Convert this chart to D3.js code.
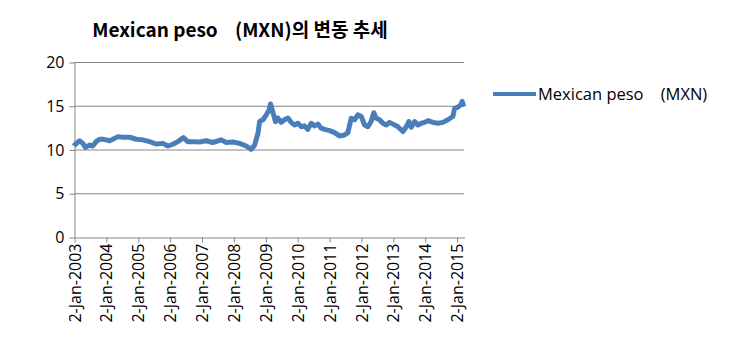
<!DOCTYPE html>
<html>
<head>
<meta charset="utf-8">
<script src="https://cdn.jsdelivr.net/npm/d3@7"></script>
<style>
  body { margin: 0; background: #fff; }
  text { white-space: pre; }
</style>
</head>
<body>
<div class="canvas_area"></div>
<script>
// DATA
const seriesName = "Mexican peso    (MXN)";
const chartTitle = "Mexican peso    (MXN)의 변동 추세";
const dates = [
  "2003-01-02","2003-01-09","2003-03-05","2003-04-13","2003-05-13","2003-06-28","2003-08-05","2003-09-13","2003-10-21","2003-11-28",
  "2004-01-06","2004-02-13","2004-03-22","2004-05-19","2004-07-13","2004-10-01","2004-12-16","2005-03-01","2005-05-16","2005-08-01",
  "2005-10-16","2005-12-13","2006-02-09","2006-04-06","2006-06-09","2006-07-28","2006-09-25","2006-12-10","2007-02-25","2007-05-10",
  "2007-08-16","2007-10-13","2007-12-28","2008-03-13","2008-05-28","2008-07-25","2008-09-01","2008-10-10","2008-10-28","2008-12-06",
  "2009-01-13","2009-02-13","2009-03-02","2009-03-28","2009-04-28","2009-05-25","2009-07-03","2009-08-10","2009-09-18","2009-10-25",
  "2009-12-03","2010-01-10","2010-02-19","2010-03-25","2010-05-03","2010-06-12","2010-07-19","2010-08-27","2010-10-04","2010-11-12",
  "2011-01-09","2011-03-06","2011-05-01","2011-06-28","2011-08-06","2011-09-13","2011-10-21","2011-11-28","2012-01-06","2012-02-13",
  "2012-03-21","2012-04-28","2012-05-29","2012-06-25","2012-08-03","2012-09-10","2012-10-18","2012-11-25","2013-01-04","2013-03-01",
  "2013-04-27","2013-06-04","2013-07-04","2013-08-01","2013-09-09","2013-10-16","2013-11-24","2014-01-01","2014-02-09","2014-04-06",
  "2014-06-01","2014-07-28","2014-09-24","2014-11-21","2014-12-10","2015-01-18","2015-02-18","2015-03-07","2015-03-25"
];
const values = [
  10.4,10.5,11.0,10.7,10.25,10.5,10.4,10.9,11.17,11.17,
  11.1,11.0,11.17,11.47,11.4,11.4,11.17,11.1,10.9,10.63,
  10.7,10.4,10.6,10.9,11.36,10.9,10.9,10.86,11.0,10.8,
  11.1,10.8,10.86,10.7,10.4,10.02,10.5,11.85,13.2,13.4,
  13.96,14.5,15.2,14.3,13.2,13.6,13.1,13.4,13.6,13.1,
  12.8,13.0,12.6,12.7,12.3,13.0,12.7,12.9,12.43,12.3,
  12.16,11.93,11.55,11.66,11.93,13.58,13.4,13.96,13.77,12.8,
  12.6,13.2,14.2,13.58,13.4,13.0,12.8,13.1,12.9,12.6,
  12.05,12.6,13.2,12.54,13.2,12.8,13.0,13.1,13.3,13.1,
  13.0,13.1,13.4,13.77,14.7,14.84,15.1,15.5,14.9
];
const yTicks = [0, 5, 10, 15, 20];
const tickYears = d3.range(2003, 2016);

// SIZES
const svgwidth = 740, svgheight = 355;
const plot = {left: 74, right: 464, top: 62, bottom: 237};
const labelFont = "'Malgun Gothic', 'Open Sans', 'Noto Sans', sans-serif";

const svg = d3.select(".canvas_area").append("svg")
  .attr("width", svgwidth).attr("height", svgheight)
  .style("font-family", "'Malgun Gothic', 'Noto Sans CJK KR', 'Noto Sans', sans-serif");

const parse = d3.timeParse("%Y-%m-%d");
const data = dates.map((d, i) => ({date: parse(d), value: values[i]}));

// SCALES
const X = d3.scaleTime()
  .domain([parse("2003-01-02"), parse("2015-03-28")])
  .range([plot.left, plot.right]);
const Y = d3.scaleLinear().domain([0, 20]).range([plot.bottom, plot.top]);

// GRIDLINES
svg.append("g").selectAll("line").data(yTicks.filter(d => d > 0)).enter().append("line")
  .attr("x1", plot.left).attr("x2", plot.right)
  .attr("y1", d => Y(d) + 0.5).attr("y2", d => Y(d) + 0.5)
  .style("stroke", "#868686").style("stroke-width", 1);

// Y AXIS
const yAxis = svg.append("g").attr("transform", `translate(${plot.left + 0.5},0.5)`)
  .call(d3.axisLeft(Y).tickValues(yTicks).tickSize(5).tickSizeOuter(0).tickPadding(5));
yAxis.select(".domain").style("stroke", "#868686");
yAxis.selectAll(".tick line").style("stroke", "#868686");
yAxis.selectAll("text").style("font-size", "16px").style("fill", "#000")
  .style("font-family", labelFont);

// X AXIS
const xAxis = svg.append("g").attr("transform", `translate(0.5,${plot.bottom + 0.5})`)
  .call(d3.axisBottom(X)
    .tickValues(tickYears.map(y => new Date(y, 0, 2)))
    .tickFormat(d3.timeFormat("2-Jan-%Y"))
    .tickSize(5).tickSizeOuter(0));
xAxis.select(".domain").style("stroke", "#868686");
xAxis.selectAll(".tick line").style("stroke", "#868686");
xAxis.selectAll("text")
  .attr("transform", "rotate(-90)")
  .attr("x", -6).attr("y", 0).attr("dy", "0.35em")
  .style("text-anchor", "end")
  .style("font-size", "16px").style("fill", "#000")
  .style("font-family", labelFont);

// LINE
const line = d3.line().x(d => X(d.date)).y(d => Y(d.value));
svg.append("path").datum(data)
  .attr("d", line)
  .style("fill", "none")
  .style("stroke", "#4A7EBB")
  .style("stroke-width", 5)
  .style("stroke-linejoin", "round");

// TITLE
svg.append("text")
  .attr("x", 240).attr("y", 37)
  .attr("text-anchor", "middle")
  .style("font-size", "19px").style("font-weight", "bold")
  .text(chartTitle);

// LEGEND
const legend = svg.append("g").attr("transform", "translate(493,94)");
legend.append("line")
  .attr("x1", 0).attr("x2", 43).attr("y1", 0).attr("y2", 0)
  .style("stroke", "#4A7EBB").style("stroke-width", 4);
legend.append("text")
  .attr("x", 45).attr("y", 6)
  .style("font-size", "16.5px")
  .style("font-family", labelFont)
  .text(seriesName);
</script>
</body>
</html>
